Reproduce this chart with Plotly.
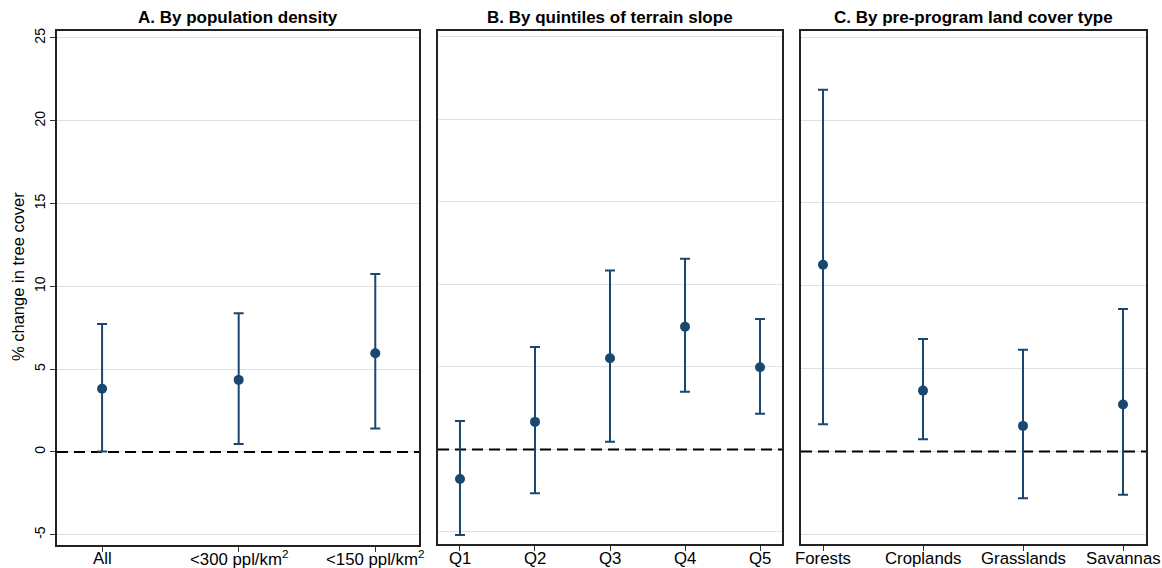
import plotly.graph_objects as go

# Panel A: population density subsets
density_labels = ["All", "&lt;300 ppl/km<sup>2</sup>", "&lt;150 ppl/km<sup>2</sup>"]
density_est = [3.82, 4.35, 5.96]
density_lo = [0.02, 0.48, 1.41]
density_hi = [7.73, 8.37, 10.75]

# Panel B: quintiles of terrain slope
slope_labels = ["Q1", "Q2", "Q3", "Q4", "Q5"]
slope_est = [-1.79, 1.67, 5.53, 7.44, 4.98]
slope_lo = [-5.18, -2.65, 0.47, 3.50, 2.17]
slope_hi = [1.73, 6.21, 10.84, 11.55, 7.91]

# Panel C: pre-program land cover type
cover_labels = ["Forests", "Croplands", "Grasslands", "Savannas"]
cover_est = [11.27, 3.67, 1.54, 2.83]
cover_lo = [1.64, 0.74, -2.83, -2.61]
cover_hi = [21.84, 6.78, 6.13, 8.59]

panel_titles = [
    "A. By population density",
    "B. By quintiles of terrain slope",
    "C. By pre-program land cover type",
]
y_ticks = [-5, 0, 5, 10, 15, 20, 25]

NAVY = "#1a476f"
FONT = "Liberation Sans, Arial, sans-serif"
W, H = 1162, 568

panels = [
    (density_labels, density_est, density_lo, density_hi),
    (slope_labels, slope_est, slope_lo, slope_hi),
    (cover_labels, cover_est, cover_lo, cover_hi),
]

# pixel frames of each panel (left, right) and y extents
x_px = [(57, 419), (438, 782), (801, 1146)]
x_ranges = [[-0.33, 2.32], [-0.293, 4.293], [-0.22, 3.23]]
y_ranges = [[-5.62, 25.42], [-5.73, 25.36], [-5.59, 25.38]]
y_bottom_px = [545, 544, 544]
y_top_px = 31
x_label_px = 558  # vertical centre of category labels

fig = go.Figure()
layout = dict(
    width=W, height=H,
    margin=dict(l=0, r=0, t=0, b=0, autoexpand=False),
    paper_bgcolor="white", plot_bgcolor="white",
    showlegend=False,
    font=dict(family=FONT, size=16, color="black"),
    annotations=[],
)

for i, (labels, est, lo, hi) in enumerate(panels):
    n = i + 1
    xa = "x" if n == 1 else f"x{n}"
    ya = "y" if n == 1 else f"y{n}"
    xs = list(range(len(labels)))
    plus = [h - e for h, e in zip(hi, est)]
    minus = [e - l for e, l in zip(est, lo)]
    # dashed reference line at zero, spanning the panel, under the estimates
    fig.add_trace(go.Scatter(
        x=x_ranges[i], y=[0, 0], mode="lines",
        line=dict(color="black", width=2, dash="11px,6px"),
        xaxis=xa, yaxis=ya, hoverinfo="skip",
    ))
    fig.add_trace(go.Scatter(
        x=xs, y=est, mode="markers",
        marker=dict(color=NAVY, size=10),
        error_y=dict(type="data", symmetric=False, array=plus, arrayminus=minus,
                     color=NAVY, thickness=2, width=5),
        xaxis=xa, yaxis=ya, hoverinfo="skip",
    ))
    xd = [x_px[i][0] / W, x_px[i][1] / W]
    yd = [1 - y_bottom_px[i] / H, 1 - y_top_px / H]
    layout["xaxis" if n == 1 else f"xaxis{n}"] = dict(
        domain=xd, range=x_ranges[i], anchor=ya, automargin=False,
        tickmode="array", tickvals=xs, showticklabels=False,
        ticks="outside", ticklen=5, tickcolor="#333", tickwidth=1,
        showgrid=False, zeroline=False,
        showline=True, mirror=True, linecolor="#222", linewidth=1.5,
        fixedrange=True,
    )
    layout["yaxis" if n == 1 else f"yaxis{n}"] = dict(
        domain=yd, range=y_ranges[i], anchor=xa, automargin=False,
        tickmode="array", tickvals=y_ticks,
        ticktext=[str(t) for t in y_ticks],
        showticklabels=(n == 1),
        ticks="outside" if n == 1 else "", ticklen=5, tickcolor="#333",
        tickangle=-90, tickfont=dict(size=14, family=FONT),
        showgrid=True, gridcolor="#e0e0e0", gridwidth=1.2,
        zeroline=False,
        showline=True, mirror=True, linecolor="#222", linewidth=1.5,
        fixedrange=True,
    )
    # category labels under each panel
    for xv, lab in zip(xs, labels):
        layout["annotations"].append(dict(
            text=lab, xref=xa, yref="paper", x=xv, y=1 - x_label_px / H,
            xanchor="center", yanchor="middle", showarrow=False,
            font=dict(size=16.8, family=FONT, color="black"),
        ))
    layout["annotations"].append(dict(
        text=f"<b>{panel_titles[i]}</b>", xref="paper", yref="paper",
        x=(xd[0] + xd[1]) / 2, y=1 - 17 / H, xanchor="center", yanchor="middle",
        showarrow=False, font=dict(size=17, family=FONT, color="black"),
    ))

layout["annotations"].append(dict(
    text="% change in tree cover", xref="paper", yref="paper",
    x=18 / W, y=1 - 277 / H, xanchor="center", yanchor="middle",
    textangle=-90, showarrow=False, font=dict(size=16.5, family=FONT, color="black"),
))

fig.update_layout(**layout)
fig.write_html("out.html")
